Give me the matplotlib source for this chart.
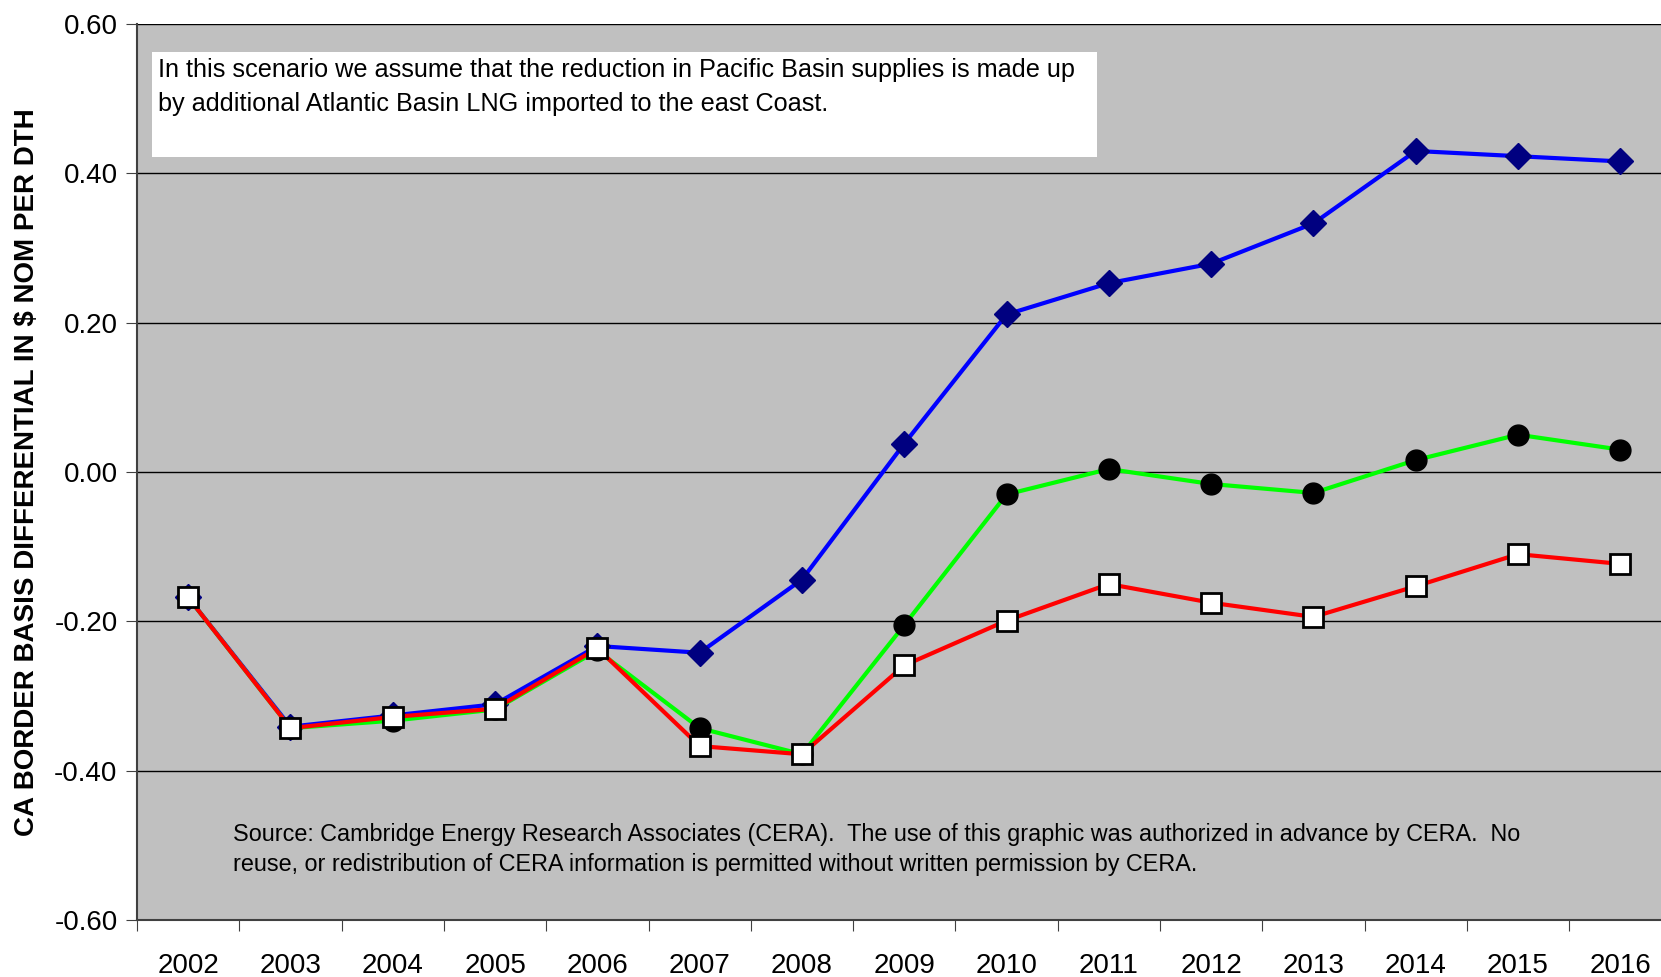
import numpy as np
import matplotlib.pyplot as plt

plt.rcParams['font.family'] = ['Liberation Sans', 'DejaVu Sans']

# values
years = ['2002', '2003', '2004', '2005', '2006', '2007', '2008', '2009',
         '2010', '2011', '2012', '2013', '2014', '2015', '2016']
blue_vals = [-0.168, -0.341, -0.326, -0.311, -0.233, -0.242, -0.144, 0.038,
             0.211, 0.253, 0.279, 0.333, 0.430, 0.423, 0.416]
green_vals = [-0.168, -0.343, -0.333, -0.318, -0.239, -0.343, -0.378, -0.205,
              -0.030, 0.004, -0.016, -0.028, 0.016, 0.050, 0.030]
red_vals = [-0.168, -0.343, -0.328, -0.317, -0.236, -0.367, -0.378, -0.259,
            -0.199, -0.150, -0.175, -0.194, -0.153, -0.110, -0.123]
y_ticks = [-0.6, -0.4, -0.2, 0.0, 0.2, 0.4, 0.6]

box_text = ("In this scenario we assume that the reduction in Pacific Basin supplies is made up\n"
            "by additional Atlantic Basin LNG imported to the east Coast.")
source_text = ("Source: Cambridge Energy Research Associates (CERA).  The use of this graphic was authorized in advance by CERA.  No\n"
               "reuse, or redistribution of CERA information is permitted without written permission by CERA.")

x = np.arange(len(years))

fig = plt.figure(figsize=(16.61, 9.77), dpi=100)
# plot area runs a little past the right edge of the picture, as in the original
ax = fig.add_axes([0.0825, 0.0583, 0.9238, 0.9171])
ax.set_facecolor('#C0C0C0')

ax.plot(x, blue_vals, color='#0000FF', lw=3, marker='D', ms=13,
        mfc='#000080', mec='#000080', zorder=3)
ax.plot(x, green_vals, color='#00FF00', lw=3, marker='o', ms=15,
        mfc='black', mec='black', zorder=4)
ax.plot(x, red_vals, color='#FF0000', lw=3, marker='s', ms=14,
        mfc='white', mec='black', mew=2, zorder=5)

ax.set_xlim(-0.5, len(years) - 0.5)
ax.set_ylim(-0.6, 0.6)
ax.set_yticks(y_ticks)
ax.set_yticklabels([f'{v:.2f}' for v in y_ticks], fontsize=20)
ax.yaxis.grid(True, color='black', lw=1)
ax.set_axisbelow(True)

ax.set_xticks(np.arange(-0.5, len(years)))
ax.set_xticklabels([])
ax.set_xticks(x, minor=True)
ax.set_xticklabels(years, minor=True, fontsize=20)
ax.tick_params(axis='x', which='major', length=8, direction='out', color='#404040')
ax.tick_params(axis='x', which='minor', length=0, pad=24)
ax.tick_params(axis='y', length=8, direction='out', color='#404040', pad=6)

for s in ['top', 'right']:
    ax.spines[s].set_visible(False)
for s in ['left', 'bottom']:
    ax.spines[s].set_color('#404040')
    ax.spines[s].set_linewidth(1.5)

ax.set_ylabel('CA BORDER BASIS DIFFERENTIAL IN $ NOM PER DTH',
              fontsize=20, fontweight='bold', labelpad=10)

# white note box
fig.patches.append(plt.Rectangle((152 / 1661, (977 - 157) / 977), (1097 - 152) / 1661,
                                 105 / 977, transform=fig.transFigure,
                                 facecolor='white', edgecolor='none', zorder=6))
fig.text(158 / 1661, (977 - 58) / 977, box_text, fontsize=18.2, va='top',
         linespacing=1.5, zorder=7)

fig.text(233 / 1661, (977 - 823) / 977, source_text, fontsize=16.8, va='top',
         linespacing=1.4)

fig.savefig('out.png', dpi=100)
